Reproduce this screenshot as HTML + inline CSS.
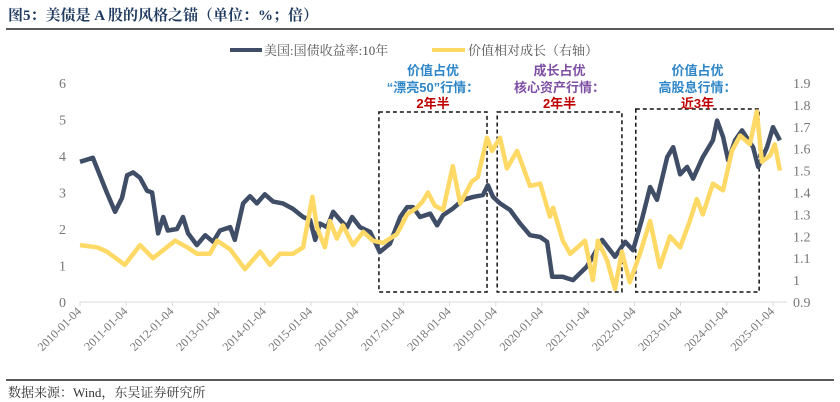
<!DOCTYPE html>
<html><head><meta charset="utf-8">
<style>
body{margin:0;background:#fff;}
#wrap{position:relative;width:840px;height:402px;overflow:hidden;font-family:"Liberation Serif","Noto Serif CJK SC",serif;}
</style></head>
<body>
<div id="wrap">
<svg id="chart" width="840" height="402" xmlns="http://www.w3.org/2000/svg">
<text x="8" y="20" font-size="15" font-weight="bold" fill="#1f3a5f" font-family="Liberation Serif,Noto Serif CJK SC,serif">图5：美债是 A 股的风格之锚（单位：%；倍）</text>
<line x1="6" y1="29" x2="834" y2="29" stroke="#222" stroke-width="1.5"/>
<g>
<g>
<line x1="230" y1="50" x2="262" y2="50" stroke="#3f4d66" stroke-width="4"/>
<text x="264" y="55" font-size="13" fill="#555" font-family="Liberation Serif,Noto Serif CJK SC,serif">美国:国债收益率:10年</text></g>
<g>
<line x1="432" y1="50" x2="465" y2="50" stroke="#ffd966" stroke-width="4"/>
<text x="468" y="55" font-size="13" fill="#555" font-family="Liberation Serif,Noto Serif CJK SC,serif">价值相对成长（右轴）</text></g>
</g>
<g id="axes"></g>
<g id="boxes"></g>
<g id="series"></g>
<line x1="6" y1="380" x2="834" y2="380" stroke="#222" stroke-width="1.5"/>
<text x="8" y="397" font-size="13" fill="#333" font-family="Liberation Serif,Noto Serif CJK SC,serif">数据来源：Wind，东吴证券研究所</text>
</svg>
</div>
<script>
const yieldYears=[2010.00,2010.28,2010.39,2010.58,2010.76,2010.91,2011.02,2011.15,2011.30,2011.45,2011.56,2011.69,2011.80,2011.90,2012.10,2012.23,2012.34,2012.53,2012.71,2012.88,2013.03,2013.25,2013.35,2013.53,2013.68,2013.83,2014.00,2014.18,2014.39,2014.61,2014.83,2014.98,2015.09,2015.19,2015.35,2015.48,2015.63,2015.78,2015.89,2016.06,2016.28,2016.49,2016.71,2016.93,2017.08,2017.21,2017.36,2017.58,2017.73,2017.86,2018.07,2018.29,2018.51,2018.72,2018.83,2018.94,2019.09,2019.31,2019.52,2019.74,2019.96,2020.11,2020.22,2020.45,2020.67,2020.97,2021.10,2021.30,2021.58,2021.80,2021.97,2022.16,2022.34,2022.49,2022.71,2022.84,2022.99,2023.14,2023.27,2023.48,2023.70,2023.79,2023.92,2024.03,2024.18,2024.33,2024.57,2024.68,2024.87,2025.00,2025.15];
const yieldValues=[3.84,3.95,3.6,3.0,2.47,2.85,3.47,3.55,3.4,3.05,3.0,1.88,2.33,1.96,2.0,2.33,1.88,1.56,1.83,1.65,1.96,2.05,1.7,2.7,2.9,2.7,2.95,2.75,2.7,2.55,2.33,2.25,1.7,2.15,2.05,2.47,2.25,2.05,2.33,2.05,1.92,1.37,1.6,2.33,2.6,2.6,2.33,2.42,2.1,2.38,2.56,2.8,2.88,2.93,3.2,2.88,2.7,2.52,2.16,1.83,1.78,1.65,0.69,0.69,0.6,0.97,1.24,1.7,1.24,1.65,1.42,2.25,3.15,2.8,3.97,4.24,3.5,3.7,3.38,3.97,4.43,4.97,4.52,3.88,4.43,4.7,4.24,3.7,4.24,4.79,4.43];
const ratioYears=[2010.00,2010.37,2010.58,2010.97,2011.30,2011.58,2012.06,2012.32,2012.53,2012.81,2012.97,2013.25,2013.57,2013.90,2014.11,2014.33,2014.61,2014.83,2015.03,2015.13,2015.30,2015.41,2015.56,2015.69,2015.91,2016.13,2016.34,2016.56,2016.86,2017.08,2017.29,2017.42,2017.53,2017.68,2017.86,2018.07,2018.23,2018.48,2018.61,2018.81,2018.92,2019.09,2019.24,2019.46,2019.74,2019.96,2020.17,2020.24,2020.45,2020.61,2020.93,2021.10,2021.21,2021.41,2021.58,2021.73,2021.90,2022.12,2022.34,2022.55,2022.77,2022.99,2023.20,2023.35,2023.48,2023.70,2023.92,2024.11,2024.29,2024.50,2024.65,2024.76,2024.94,2025.04,2025.15];
const ratioValues=[1.16,1.15,1.13,1.07,1.16,1.10,1.18,1.15,1.12,1.12,1.18,1.14,1.05,1.13,1.07,1.12,1.12,1.15,1.38,1.24,1.15,1.27,1.19,1.25,1.16,1.22,1.18,1.17,1.21,1.30,1.33,1.36,1.40,1.34,1.32,1.52,1.35,1.45,1.47,1.65,1.59,1.65,1.51,1.59,1.43,1.44,1.29,1.33,1.18,1.12,1.18,1.0,1.18,1.09,0.96,1.13,0.99,1.12,1.27,1.06,1.20,1.15,1.27,1.37,1.30,1.44,1.41,1.59,1.66,1.62,1.77,1.54,1.57,1.62,1.50];
const leftTicks=[0,1,2,3,4,5,6];
const rightTicks=[0.9,1,1.1,1.2,1.3,1.4,1.5,1.6,1.7,1.8,1.9];
const xTickLabels=["2010-01-04","2011-01-04","2012-01-04","2013-01-04","2014-01-04","2015-01-04","2016-01-04","2017-01-04","2018-01-04","2019-01-04","2020-01-04","2021-01-04","2022-01-04","2023-01-04","2024-01-04","2025-01-04"];
const regimeStarts=[2016.47,2019.03,2022.03];
const regimeEnds=[2018.81,2021.73,2024.70];

const NS="http://www.w3.org/2000/svg";
const X0=80,PX_YEAR=46.2,YB=302,YT=83;
function xs(y){return X0+(y-2010)*PX_YEAR;}
function yl(v){return YB-(v-0)/6*(YB-YT);}
function yr(v){return YB-(v-0.9)/1.0*(YB-YT);}
function mk(tag,attrs,parent){const e=document.createElementNS(NS,tag);for(const k in attrs)e.setAttribute(k,attrs[k]);parent.appendChild(e);return e;}
const axes=document.getElementById('axes');
const F="Liberation Serif,Noto Serif CJK SC,serif";
const base=mk('line',{x1:X0,y1:YB,x2:787,y2:YB,stroke:'#d9d9d9','stroke-width':1},axes);


leftTicks.forEach(v=>{const t=mk('text',{x:66,y:yl(v)+5,'font-size':14,fill:'#777','text-anchor':'end','font-family':F},axes);t.textContent=v;

});
rightTicks.forEach(v=>{const t=mk('text',{x:793,y:yr(v)+5,'font-size':14,fill:'#777','font-family':F},axes);t.textContent=(Math.round(v*10)/10).toString();

});
xTickLabels.forEach((lab,i)=>{const x=xs(2010+i);
const tk=mk('line',{x1:x,y1:YB,x2:x,y2:YB+4,stroke:'#d9d9d9'},axes);


const t=mk('text',{x:x+2,y:YB+10,'font-size':12,fill:'#777','text-anchor':'end','font-family':F,transform:`rotate(-45 ${x+2} ${YB+10})`},axes);t.textContent=lab;

});

const boxes=document.getElementById('boxes');
const boxText=[["价值占优","“漂亮50”行情：","2年半","#2e86c8",112],["成长占优","核心资产行情：","2年半","#7e4fa3",112],["价值占优","高股息行情：","近3年","#2e86c8",109]];
boxText.forEach((b,i)=>{const x1=xs(regimeStarts[i]),x2=xs(regimeEnds[i]);
const r=mk('rect',{x:x1,y:b[4],width:x2-x1,height:292-b[4],fill:'none',stroke:'#111','stroke-width':1.5,'stroke-dasharray':'4,3'},boxes);


const cx=(x1+x2)/2;
[[b[0],b[3],75],[b[1],b[3],92],[b[2],'#c00000',108]].forEach(l=>{const t=mk('text',{x:cx,y:l[2],'font-size':13,'font-weight':'bold',fill:l[1],'text-anchor':'middle','font-family':'Liberation Sans,Noto Sans CJK SC,sans-serif'},boxes);t.textContent=l[0];

});});

const series=document.getElementById('series');
function pathOf(xsA,vs,f){return xsA.map((y,i)=>(i?'L':'M')+xs(y).toFixed(1)+','+f(vs[i]).toFixed(1)).join(' ');}
const p1=mk('path',{d:pathOf(yieldYears,yieldValues,yl),fill:'none',stroke:'#3f4d66','stroke-width':4.5,'stroke-linejoin':'round'},series);


const p2=mk('path',{d:pathOf(ratioYears,ratioValues,yr),fill:'none',stroke:'#ffd966','stroke-width':4.5,'stroke-linejoin':'round'},series);


</script>
</body></html>
